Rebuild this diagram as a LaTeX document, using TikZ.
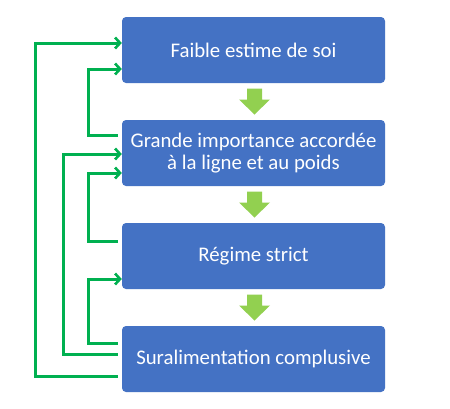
\documentclass[tikz,border=0pt]{standalone}
\usepackage{fontspec}
\setmainfont{Carlito}
\usetikzlibrary{arrows.meta,calc}
\definecolor{boxblue}{RGB}{68,114,196}
\definecolor{fbgreen}{RGB}{0,176,80}
\definecolor{flowgreen}{RGB}{146,208,80}
\tikzset{
  stepbox/.style={rectangle, rounded corners=4pt, fill=boxblue, text=white,
    minimum width=263pt, minimum height=66pt, inner sep=2pt, align=center,
    font=\fontsize{20.8}{22.5}\selectfont},
  fb/.style={draw=fbgreen, line width=3pt, -{Straight Barb[length=5pt,width=11pt,line width=2.6pt]}},
}
\newcommand{\flowarrow}[1]{%
  \fill[flowgreen] ($(#1)+(-7.5pt,13pt)$) -- ($(#1)+(7.5pt,13pt)$) -- ($(#1)+(7.5pt,2pt)$)
    -- ($(#1)+(15.5pt,2pt)$) -- ($(#1)+(0pt,-13pt)$) -- ($(#1)+(-15.5pt,2pt)$)
    -- ($(#1)+(-7.5pt,2pt)$) -- cycle;}
\begin{document}
\begin{tikzpicture}[x=1pt,y=1pt]
\fill[white] (0,0) rectangle (450,-408);
\useasboundingbox (0,0) rectangle (450,-408);
\node[stepbox] (b1) at (253.5,-50) {Faible estime de soi};
\node[stepbox] (b2) at (253.5,-153) {Grande importance accordée\\à la ligne et au poids};
\node[stepbox] (b3) at (253.5,-256) {Régime strict};
\node[stepbox] (b4) at (253.5,-359) {Suralimentation complusive};
\coordinate (m1) at ($(b1.south)!0.5!(b2.north)+(1pt,0)$);
\coordinate (m2) at ($(b2.south)!0.5!(b3.north)+(1pt,0)$);
\coordinate (m3) at ($(b3.south)!0.5!(b4.north)+(1pt,0)$);
\flowarrow{m1}
\flowarrow{m2}
\flowarrow{m3}
\draw[fb] ([xshift=-4pt,yshift=-17pt]b4.west) -- ++(-82pt,0) |- ([yshift=7pt]b1.west);
\draw[fb] ([xshift=-4pt,yshift=18pt]b2.west) -- ++(-29pt,0) |- ([yshift=-19pt]b1.west);
\draw[fb] ([xshift=-4pt,yshift=5pt]b4.west) -- ++(-54pt,0) |- ([yshift=-1pt]b2.west);
\draw[fb] ([xshift=-4pt,yshift=15pt]b3.west) -- ++(-29pt,0) |- ([yshift=-20pt]b2.west);
\draw[fb] ([xshift=-4pt,yshift=16pt]b4.west) -- ++(-29pt,0) |- ([yshift=-23pt]b3.west);
\end{tikzpicture}
\end{document}
